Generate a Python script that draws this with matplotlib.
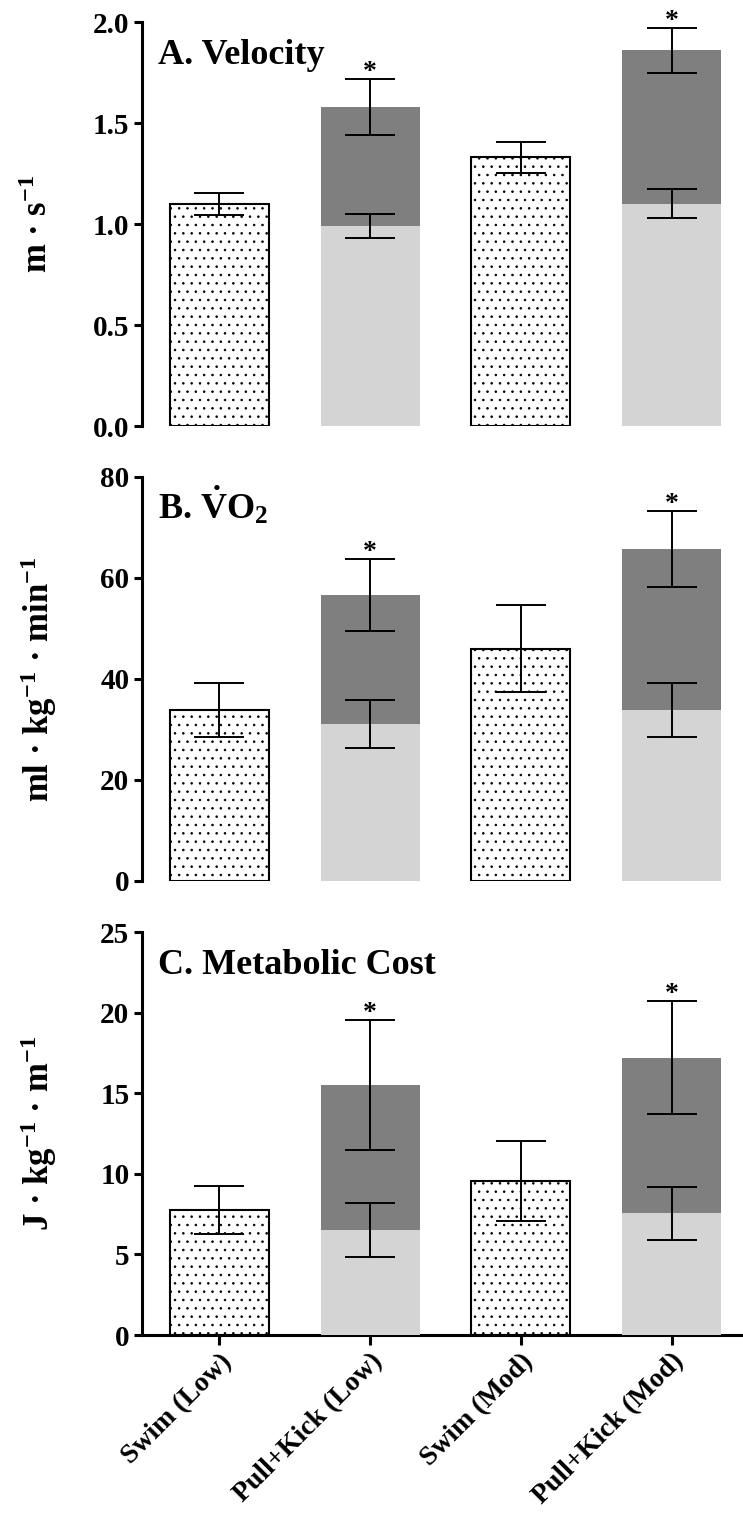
import numpy as np
import matplotlib
matplotlib.use('Agg')
import matplotlib.pyplot as plt

plt.rcParams['font.family'] = ['Liberation Serif', 'DejaVu Serif']
plt.rcParams['font.weight'] = 'bold'
plt.rcParams['mathtext.fontset'] = 'custom'
plt.rcParams['mathtext.rm'] = 'Liberation Serif:bold'
plt.rcParams['mathtext.it'] = 'Liberation Serif:bold:italic'
plt.rcParams['mathtext.bf'] = 'Liberation Serif:bold'
plt.rcParams['mathtext.default'] = 'rm'
plt.rcParams['hatch.linewidth'] = 0.6

categories = ['Swim (Low)', 'Pull+Kick (Low)', 'Swim (Mod)', 'Pull+Kick (Mod)']

# velocity (m/s)
vel_swim = [1.10, 1.33]
vel_swim_sd = [0.055, 0.078]
vel_pk_total = [1.58, 1.86]
vel_pk_total_sd = [0.14, 0.11]
vel_pk_base = [0.99, 1.10]
vel_pk_base_sd = [0.06, 0.072]

# VO2 (ml/kg/min)
vo2_swim = [33.9, 46.0]
vo2_swim_sd = [5.4, 8.6]
vo2_pk_total = [56.7, 65.7]
vo2_pk_total_sd = [7.1, 7.5]
vo2_pk_base = [31.1, 33.9]
vo2_pk_base_sd = [4.8, 5.3]

# metabolic cost (J/kg/m)
cost_swim = [7.75, 9.55]
cost_swim_sd = [1.5, 2.46]
cost_pk_total = [15.5, 17.2]
cost_pk_total_sd = [4.03, 3.51]
cost_pk_base = [6.52, 7.55]
cost_pk_base_sd = [1.69, 1.65]

dark = '#7f7f7f'
light = '#d4d4d4'
bw = 0.657
spine_w = 2.2

fig = plt.figure(figsize=(7.43, 15.2), dpi=100)

panels = [
    dict(rect=[0.1911, 0.7197, 0.8089, 0.2658], ymax=2.0, ticks=[0, 0.5, 1.0, 1.5, 2.0], fmt='%.1f',
         title='A. Velocity', ylabel=r'm · s$^{-1}$',
         swim=vel_swim, swim_sd=vel_swim_sd, tot=vel_pk_total, tot_sd=vel_pk_total_sd,
         base=vel_pk_base, base_sd=vel_pk_base_sd),
    dict(rect=[0.1911, 0.4204, 0.8089, 0.2658], ymax=80, ticks=[0, 20, 40, 60, 80], fmt='%d',
         title=r'B. $\dot{\mathrm{V}}$O$_{2}$', ylabel=r'ml · kg$^{-1}$ · min$^{-1}$',
         swim=vo2_swim, swim_sd=vo2_swim_sd, tot=vo2_pk_total, tot_sd=vo2_pk_total_sd,
         base=vo2_pk_base, base_sd=vo2_pk_base_sd),
    dict(rect=[0.1911, 0.1217, 0.8089, 0.2651], ymax=25, ticks=[0, 5, 10, 15, 20, 25], fmt='%d',
         title='C. Metabolic Cost', ylabel=r'J · kg$^{-1}$ · m$^{-1}$',
         swim=cost_swim, swim_sd=cost_swim_sd, tot=cost_pk_total, tot_sd=cost_pk_total_sd,
         base=cost_pk_base, base_sd=cost_pk_base_sd),
]

x = np.arange(len(categories))
x_swim = x[[0, 2]]
x_pk = x[[1, 3]]
err_kw = dict(fmt='none', ecolor='black', elinewidth=1.4, capsize=18, capthick=1.4, zorder=5)

for i, p in enumerate(panels):
    ax = fig.add_axes(p['rect'])
    ax.bar(x_swim, p['swim'], width=bw, color='white', edgecolor='black', hatch='..',
           linewidth=1.5, zorder=2)
    ax.bar(x_pk, p['tot'], width=bw, color=dark, linewidth=0, zorder=2)
    ax.bar(x_pk, p['base'], width=bw, color=light, linewidth=0, zorder=3)
    ax.errorbar(x_swim, p['swim'], yerr=p['swim_sd'], **err_kw)
    ax.errorbar(x_pk, p['tot'], yerr=p['tot_sd'], **err_kw)
    ax.errorbar(x_pk, p['base'], yerr=p['base_sd'], **err_kw)
    for xi, t, s in zip(x_pk, p['tot'], p['tot_sd']):
        ax.annotate('*', (xi, t + s), xytext=(0, 0), textcoords='offset points',
                    ha='center', va='baseline', fontsize=20, fontweight='bold', zorder=6)

    ax.set_xlim(-0.514, 3.474)
    ax.set_ylim(0, p['ymax'])
    ax.set_yticks(p['ticks'])
    ax.set_yticklabels([p['fmt'] % t for t in p['ticks']], fontsize=21, fontweight='bold')
    ax.tick_params(axis='y', width=spine_w, length=6, pad=3)
    ax.spines['left'].set_linewidth(spine_w)
    ax.spines['top'].set_visible(False)
    ax.spines['right'].set_visible(False)
    ax.text(0.027, 0.895, p['title'], transform=ax.transAxes, fontsize=26,
            fontweight='bold', ha='left', va='baseline')
    cy = p['rect'][1] + p['rect'][3] / 2
    fig.text(0.052, cy, p['ylabel'], rotation=90, ha='center', va='center',
             fontsize=25, fontweight='bold')

    if i < 2:
        ax.spines['bottom'].set_visible(False)
        ax.set_xticks([])
    else:
        ax.spines['bottom'].set_linewidth(spine_w)
        ax.set_xticks(x)
        ax.set_xticklabels(categories, rotation=45, ha='right', rotation_mode='anchor',
                           fontsize=20, fontweight='bold')
        ax.tick_params(axis='x', width=spine_w, length=7, pad=3)

fig.savefig('out.png', dpi=100)
